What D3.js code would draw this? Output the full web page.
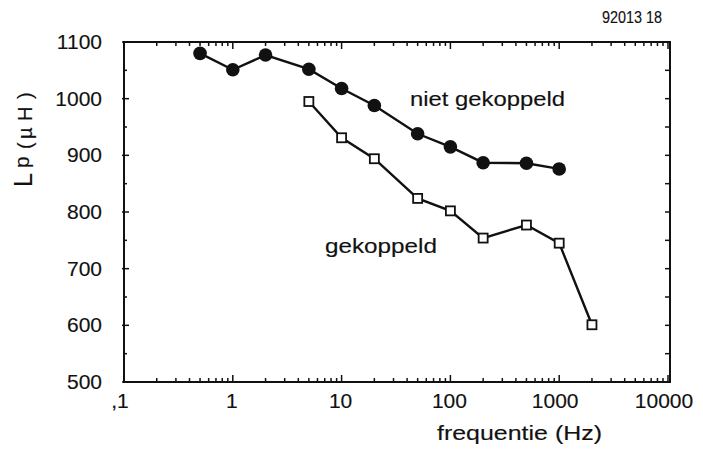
<!DOCTYPE html>
<html>
<head>
<meta charset="utf-8">
<script src="https://cdn.jsdelivr.net/npm/d3@7"></script>
<style>
  html, body { margin: 0; padding: 0; background: #fff; }
  svg { display: block; }
  text { font-family: "Liberation Sans", Arial, Helvetica, sans-serif; fill: #111; stroke: #111; stroke-width: 0.15px; }
</style>
</head>
<body>
<svg id="chart" width="703" height="452"></svg>
<script>
// Frequencies (Hz) and inductance Lp (µH)
const freqUncoupled = [0.5, 1, 2, 5, 10, 20, 50, 100, 200, 500, 1000];
const lpUncoupled   = [1080, 1051, 1077, 1052, 1018, 988, 938, 915, 887, 886, 876];
const freqCoupled   = [5, 10, 20, 50, 100, 200, 500, 1000, 2000];
const lpCoupled     = [995, 931, 894, 824, 802, 754, 777, 745, 601];

const xTickValues = [0.1, 1, 10, 100, 1000, 10000];
const xTickLabels = [",1", "1", "10", "100", "1000", "10000"];
const yTickValues = [500, 600, 700, 800, 900, 1000, 1100];

const svg = d3.select("#chart");
const plotL = 124, plotR = 670, plotT = 42, plotB = 382;

const x = d3.scaleLog().domain([0.1, 10000]).range([plotL, 668]);
const y = d3.scaleLinear().domain([500, 1100]).range([plotB, plotT]);

const ink = "#111";

// Frame
svg.append("rect")
  .attr("x", plotL).attr("y", plotT)
  .attr("width", plotR - plotL).attr("height", plotB - plotT)
  .attr("fill", "none").attr("stroke", ink).attr("stroke-width", 2);

// Log ticks on bottom and top
const minor = [];
for (let e = -1; e < 4; e++) {
  for (let m = 2; m <= 9; m++) minor.push(m * Math.pow(10, e));
}
const tickG = svg.append("g").attr("stroke", ink).attr("stroke-width", 1.5);
xTickValues.forEach(v => {
  tickG.append("line").attr("x1", x(v)).attr("x2", x(v)).attr("y1", plotB).attr("y2", plotB - 7);
  tickG.append("line").attr("x1", x(v)).attr("x2", x(v)).attr("y1", plotT).attr("y2", plotT + 7);
});
minor.forEach(v => {
  tickG.append("line").attr("x1", x(v)).attr("x2", x(v)).attr("y1", plotB).attr("y2", plotB - 4);
  tickG.append("line").attr("x1", x(v)).attr("x2", x(v)).attr("y1", plotT).attr("y2", plotT + 4);
});

// Linear ticks on left and right
d3.range(500, 1101, 50).forEach(v => {
  const major = v % 100 === 0;
  tickG.append("line")
    .attr("x1", plotL - (major ? 2 : 1)).attr("x2", plotL + (major ? 5 : 3))
    .attr("y1", y(v)).attr("y2", y(v));
  tickG.append("line").attr("x1", plotR).attr("x2", plotR - 5).attr("y1", y(v)).attr("y2", y(v));
});

// Tick labels
svg.append("g").selectAll("text").data(yTickValues).join("text")
  .attr("x", 102).attr("y", d => y(d)).attr("dy", "0.33em")
  .attr("text-anchor", "end").attr("font-size", 21)
  .text(d => d);

svg.append("g").selectAll("text").data(xTickValues).join("text")
  .attr("x", (d, i) => x(d) - (i === 0 ? 4 : (i >= 4 ? 4 : 1))).attr("y", 408)
  .attr("text-anchor", "middle").attr("font-size", 21)
  .text((d, i) => xTickLabels[i]);

// Axis titles
svg.append("text")
  .attr("x", 437).attr("y", 440)
  .attr("font-size", 20)
  .attr("textLength", 165).attr("lengthAdjust", "spacingAndGlyphs")
  .text("frequentie (Hz)");

// Rotated y title: L with subscript p, then (µH), letter by letter
const yTitle = svg.append("g").attr("transform", "rotate(-90)");
const titleGlyphs = [
  { t: "L", u: -187, v: 32, s: 25 },
  { t: "p", u: -168, v: 29, s: 21 },
  { t: "(", u: -149, v: 32, s: 20 },
  { t: "µ", u: -139, v: 32, s: 20 },
  { t: "H", u: -121, v: 32, s: 20 },
  { t: ")", u: -99,  v: 32, s: 20 }
];
yTitle.selectAll("text").data(titleGlyphs).join("text")
  .attr("x", d => d.u).attr("y", d => d.v)
  .attr("font-size", d => d.s)
  .text(d => d.t);

// Figure number
svg.append("text")
  .attr("x", 602).attr("y", 23)
  .attr("font-size", 17)
  .attr("textLength", 60).attr("lengthAdjust", "spacingAndGlyphs")
  .text("92013 18");

// Series
const line = d3.line().x(d => x(d[0])).y(d => y(d[1]));
const ptsU = freqUncoupled.map((f, i) => [f, lpUncoupled[i]]);
const ptsC = freqCoupled.map((f, i) => [f, lpCoupled[i]]);

svg.append("path").datum(ptsU).attr("d", line)
  .attr("fill", "none").attr("stroke", ink).attr("stroke-width", 2.4);
svg.append("path").datum(ptsC).attr("d", line)
  .attr("fill", "none").attr("stroke", ink).attr("stroke-width", 2.4);

svg.append("g").selectAll("circle").data(ptsU).join("circle")
  .attr("cx", d => x(d[0])).attr("cy", d => y(d[1])).attr("r", 6.8)
  .attr("fill", ink);

const sq = 9;
svg.append("g").selectAll("rect").data(ptsC).join("rect")
  .attr("x", d => x(d[0]) - sq / 2).attr("y", d => y(d[1]) - sq / 2)
  .attr("width", sq).attr("height", sq)
  .attr("fill", "#fff").attr("stroke", ink).attr("stroke-width", 1.8);

// Series labels
svg.append("text").attr("x", 410).attr("y", 106).attr("font-size", 20)
  .attr("textLength", 155).attr("lengthAdjust", "spacingAndGlyphs")
  .text("niet gekoppeld");
svg.append("text").attr("x", 325).attr("y", 253).attr("font-size", 20)
  .attr("textLength", 112).attr("lengthAdjust", "spacingAndGlyphs")
  .text("gekoppeld");
</script>
</body>
</html>
